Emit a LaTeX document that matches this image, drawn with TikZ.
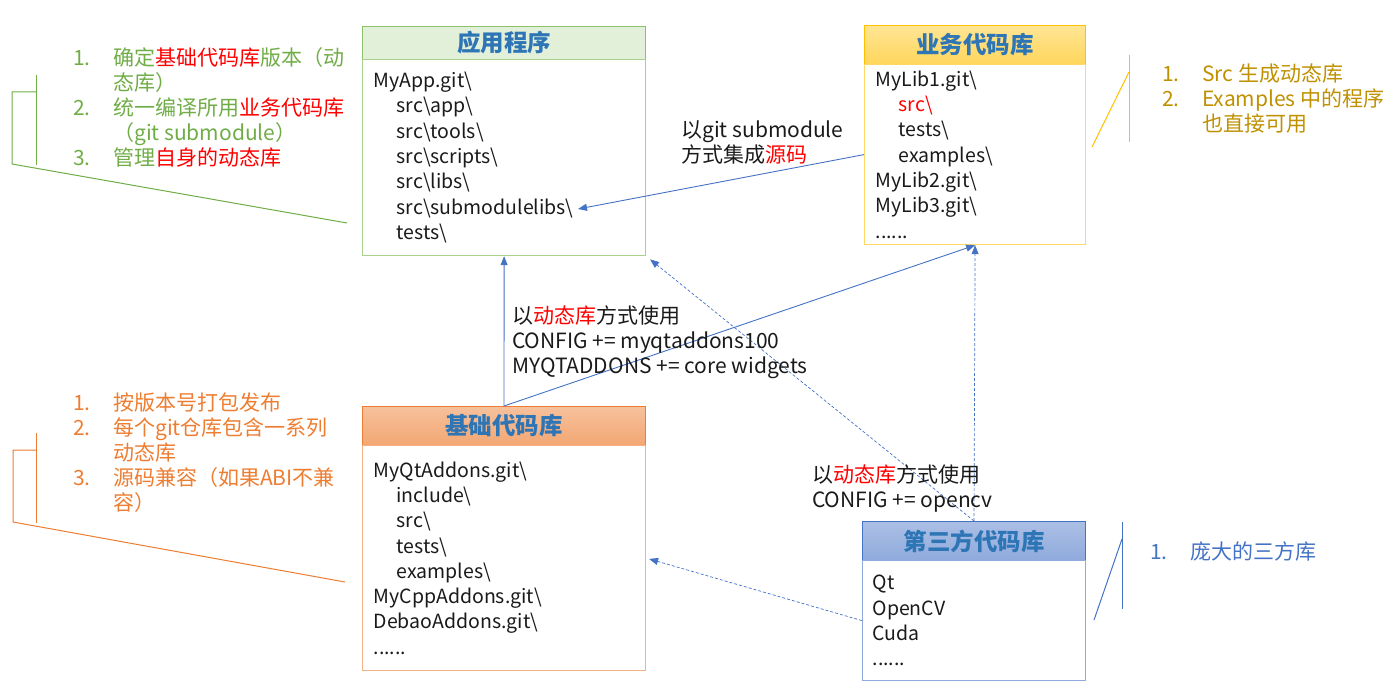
\documentclass[tikz,border=0pt]{standalone}
\usepackage{fontspec}
\setmainfont{Noto Sans CJK SC}
\usepackage{xcolor}
\usepackage{tikz}
\usetikzlibrary{arrows.meta,positioning}
\definecolor{headblue}{HTML}{2E75B6}
\definecolor{linkblue}{HTML}{4472C4}
\definecolor{appgreen}{HTML}{70AD47}
\definecolor{appedge}{HTML}{8CC26A}
\definecolor{appline}{HTML}{A9D18E}
\definecolor{appfill}{HTML}{E2EFD9}
\definecolor{bizgold}{HTML}{BF9000}
\definecolor{bizedge}{HTML}{FFC000}
\definecolor{bizline}{HTML}{FFD966}
\definecolor{baseorange}{HTML}{ED7D31}
\definecolor{baseedge}{HTML}{F4B183}
\definecolor{tpedge}{HTML}{4472C4}
\definecolor{tpline}{HTML}{8FAADC}
\definecolor{ink}{HTML}{1A1A1A}
\newcommand{\subdir}{\hspace*{23pt}}
\newcommand{\bsl}{\textbackslash}
\newcommand{\hot}[1]{\textcolor{red}{#1}}
\newcommand{\numcol}[1]{\makebox[40pt][l]{#1}}
\tikzset{
  boxhead/.style={draw, anchor=north west, inner sep=0pt, line width=1pt,
    font=\fontsize{23.5}{27}\selectfont\bfseries, text=headblue},
  boxbody/.style={draw, anchor=north west, inner xsep=11pt, inner ysep=0pt,
    line width=1.2pt, align=left, text=ink, font=\fontsize{19.5}{25.3}\selectfont},
  note/.style={anchor=north west, inner sep=0pt, align=left,
    font=\fontsize{21}{25}\selectfont},
  tip/.style={anchor=north west, inner sep=0pt, align=left, text=ink,
    font=\fontsize{21}{25}\selectfont},
  link/.style={draw=linkblue, line width=0.9pt, -{Triangle[length=9pt,width=7pt]}},
  dlink/.style={link, line width=0.7pt, dash pattern=on 3pt off 2pt},
  callout/.style={line width=1pt}
}

\begin{document}
\begin{tikzpicture}[x=1pt, y=-1pt]
  \useasboundingbox (0,0) rectangle (1397,695);

  % application
  \node[boxhead, draw=appedge, fill=appfill, minimum width=283pt, minimum height=33pt]
    (aphead) at (362,26) {应用程序};
  \node[boxbody, draw=appline, text width=261pt, minimum height=196pt] (apbody) at (362,59)
    {MyApp.git\bsl\\ \subdir src\bsl app\bsl\\ \subdir src\bsl tools\bsl\\
     \subdir src\bsl scripts\bsl\\ \subdir src\bsl libs\bsl\\
     \subdir src\bsl submodulelibs\bsl\\ \subdir tests\bsl};

  % business libraries
  \node[boxhead, draw=bizedge, top color=bizline!70, bottom color=bizline!90!bizedge,
    minimum width=221pt, minimum height=39pt] (bizhead) at (864,25) {业务代码库};
  \node[boxbody, draw=bizline, text width=199pt, minimum height=180pt] (bizbody) at (864,64)
    {MyLib1.git\bsl\\ \subdir\hot{src\bsl}\\ \subdir tests\bsl\\ \subdir examples\bsl\\
     MyLib2.git\bsl\\ MyLib3.git\bsl\\ ......};

  % base libraries
  \node[boxhead, draw=baseorange, top color=baseedge!80, bottom color=baseedge!80!baseorange,
    minimum width=283pt, minimum height=39pt] (basehead) at (362,406) {基础代码库};
  \node[boxbody, draw=baseedge, text width=261pt, minimum height=225pt] (basebody) at (362,445)
    {MyQtAddons.git\bsl\\ \subdir include\bsl\\ \subdir src\bsl\\ \subdir tests\bsl\\
     \subdir examples\bsl\\ MyCppAddons.git\bsl\\ DebaoAddons.git\bsl\\ ......};

  % third party
  \node[boxhead, draw=tpedge, top color=tpline!75, bottom color=tpline,
    minimum width=223pt, minimum height=39pt] (tphead) at (862,521) {第三方代码库};
  \node[boxbody, draw=tpline, inner xsep=10pt, text width=203pt, minimum height=120pt]
    (tpbody) at (862,560) {Qt\\ OpenCV\\ Cuda\\ ......};

  % connectors
  \coordinate (subtip) at (578,209);
  \draw[link] (bizbody.west) -- (subtip);
  \draw[link] (basehead.north) -- (apbody.south);
  \draw[link] (basehead.north) -- (bizbody.south);
  \draw[dlink, shorten >=5pt] (tphead.north) -- (apbody.south east);
  \draw[dlink] (tphead.north) -- (bizbody.south);
  \draw[dlink, shorten >=3pt] (tpbody.west) -- (basebody.east);

  \node[tip] (srclbl) at (681,120) {以git submodule\\ 方式集成\hot{源码}};
  \node[tip] (baselbl) at (512,306)
    {以\hot{动态库}方式使用\\ CONFIG += myqtaddons100\\ MYQTADDONS += core widgets};
  \node[tip] (tplbl) at (812,465) {以\hot{动态库}方式使用\\ CONFIG += opencv};

  % callouts
  \draw[callout, appgreen] (36,75) -- (36,165);
  \draw[callout, appgreen] (36,92) -- (12,92) -- (12,164) -- (347,223);
  \node[note, text=appgreen] (appnote) at (73,47)
    {\numcol{1.}确定\hot{基础代码库}版本（动\\ \numcol{}态库）\\
     \numcol{2.}统一编译所用\hot{业务代码库}\\ \numcol{}（git submodule）\\
     \numcol{3.}管理\hot{自身的动态库}};

  \draw[callout, bizedge] (1129,55) -- (1129,142);
  \draw[callout, bizedge] (1129,72) -- (1092,147);
  \node[note, text=bizgold] (biznote) at (1162,64)
    {\numcol{1.}Src 生成动态库\\ \numcol{2.}Examples 中的程序\\ \numcol{}也直接可用};

  \draw[callout, baseorange] (36,433) -- (36,523);
  \draw[callout, baseorange] (36,450) -- (13,450) -- (13,522) -- (345,582);
  \node[note, text=baseorange] (basenote) at (73,393)
    {\numcol{1.}按版本号打包发布\\ \numcol{2.}每个git仓库包含一系列\\ \numcol{}动态库\\
     \numcol{3.}源码兼容（如果ABI不兼\\ \numcol{}容）};

  \draw[callout, linkblue] (1122,522) -- (1122,609);
  \draw[callout, linkblue] (1122,539) -- (1094,620);
  \node[note, text=linkblue] (tpnote) at (1150,542) {\numcol{1.}庞大的三方库};
\end{tikzpicture}
\end{document}
